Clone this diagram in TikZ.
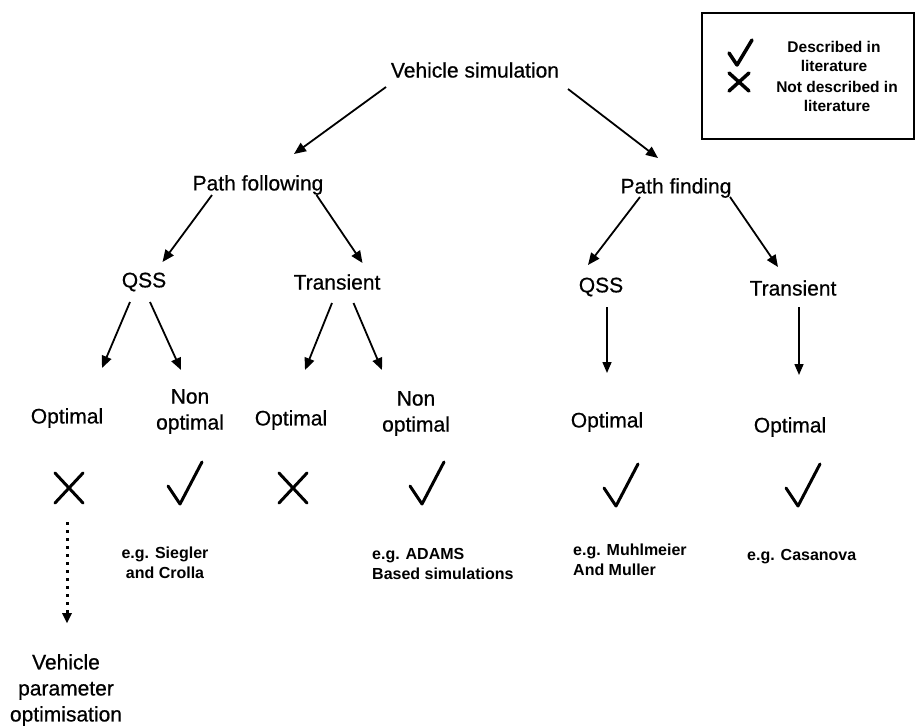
\documentclass[tikz,border=0pt]{standalone}
\usepackage{fontspec}
\setmainfont{Liberation Sans}
\newfontfamily\heavyfont[FakeBold=0.6]{Liberation Sans}
\usetikzlibrary{arrows.meta}
\begin{document}
\begin{tikzpicture}[x=1pt,y=-1pt,
  lbl/.style={font=\heavyfont\fontsize{21}{26}\selectfont, align=center, inner sep=0pt},
  sm/.style={font=\bfseries\fontsize{16}{20}\selectfont, inner sep=0pt},
  arr/.style={line width=1.8pt, -{Triangle[length=12pt,width=10pt]}},
  varr/.style={line width=1.5pt, -{Triangle[length=11pt,width=9pt]}},
  dotarr/.style={line width=3pt, dash pattern=on 3pt off 5pt, -{Triangle[length=10pt,width=10pt,line width=0pt]}},
  markline/.style={line width=3pt, line cap=round, line join=round},
  checkshape/.pic={\draw[markline] (-17,2) -- (-5,20) -- (17,-22);},
  crossshape/.pic={\draw[markline] (-14,-15) -- (14,15) (-14,15) -- (14,-15);}
]
\path[use as bounding box, fill=white] (0,0) rectangle (915,726);

% legend
\node[draw, line width=2pt, minimum width=212pt, minimum height=126pt, anchor=north west] (legend) at (701,12) {};
\draw[markline, line width=3.5pt] (729,53) -- (737,65) -- (752,40);
\draw[markline, line width=3.5pt] (729,73) -- (749,91) (729,91) -- (749,73);
\node[sm, align=center, font=\bfseries\fontsize{15.5}{19}\selectfont] (leg1) at (834,56) {Described in\\literature};
\node[sm, align=center, font=\bfseries\fontsize{15.5}{19}\selectfont] (leg2) at (837,96) {Not described in\\literature};

% tree nodes
\node[lbl] (vs) at (475,70) {Vehicle simulation};
\node[lbl] (pfol) at (258,185) {Path following};
\node[lbl] (pfind) at (676,188) {Path finding};
\node[lbl] (qss1) at (144,282) {QSS};
\node[lbl] (tr1) at (337,282) {Transient};
\node[lbl] (qss2) at (601,287) {QSS};
\node[lbl] (tr2) at (793,288) {Transient};
\node[lbl] (opt1) at (67,418) {Optimal};
\node[lbl] (non1) at (190,411.5) {Non\\optimal};
\node[lbl] (opt2) at (291,420) {Optimal};
\node[lbl] (non2) at (416,413.5) {Non\\optimal};
\node[lbl] (opt3) at (607,422) {Optimal};
\node[lbl] (opt4) at (790,427) {Optimal};
\node[lbl] (vpo) at (66,690) {Vehicle\\parameter\\optimisation};

% marks
\coordinate (x1) at (69,488);
\coordinate (ck1) at (185,484);
\coordinate (x2) at (293,488);
\coordinate (ck2) at (427,484);
\coordinate (ck3) at (621,486);
\coordinate (ck4) at (803,486);
\pic at (x1) {crossshape};
\pic at (ck1) {checkshape};
\pic at (x2) {crossshape};
\pic at (ck2) {checkshape};
\pic at (ck3) {checkshape};
\pic at (ck4) {checkshape};

% examples
\node[sm, align=center] (eg1) at (165,563) {e.g. Siegler\\and Crolla};
\node[sm, align=left, anchor=west] (eg2) at (372,564) {e.g. ADAMS\\Based simulations};
\node[sm, align=left, anchor=west] (eg3) at (573,560) {e.g. Muhlmeier\\And Muller};
\node[sm, anchor=west] (eg4) at (747,557) {e.g. Casanova};

% connectors
\draw[arr] ([shift={(-89,17)}]vs.center) -- ([shift={(36,-31)}]pfol.center);
\draw[arr] ([shift={(93,19)}]vs.center) -- ([shift={(-18,-30)}]pfind.center);
\draw[arr] ([shift={(-46,10)}]pfol.center) -- ([shift={(18.5,-20)}]qss1.center);
\draw[arr] ([shift={(58.5,10)}]pfol.center) -- ([shift={(25.5,-19)}]tr1.center);
\draw[arr] ([shift={(-36,9)}]pfind.center) -- ([shift={(-13,-22)}]qss2.center);
\draw[arr] ([shift={(54,9)}]pfind.center) -- ([shift={(-15,-21)}]tr2.center);
\draw[arr] ([shift={(-14,20)}]qss1.center) -- ([shift={(35,-50)}]opt1.center);
\draw[arr] ([shift={(6,20)}]qss1.center) -- ([shift={(-9,-41.5)}]non1.center);
\draw[arr] ([shift={(-5,21)}]tr1.center) -- ([shift={(14,-50)}]opt2.center);
\draw[arr] ([shift={(16.5,21)}]tr1.center) -- ([shift={(-34,-43.5)}]non2.center);
\draw[varr] ([shift={(6,20)}]qss2.center) -- ([shift={(0,-49)}]opt3.center);
\draw[varr] ([shift={(6,19)}]tr2.center) -- ([shift={(9,-52)}]opt4.center);
\draw[dotarr] ([shift={(-2,34)}]x1) -- ([shift={(1,-67)}]vpo.center);
\end{tikzpicture}
\end{document}
